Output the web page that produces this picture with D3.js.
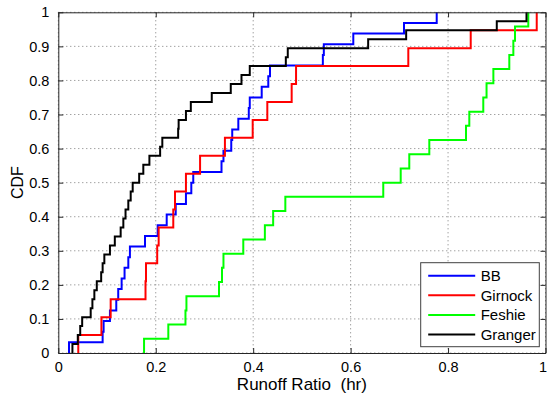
<!DOCTYPE html>
<html>
<head>
<meta charset="utf-8">
<script src="https://cdn.jsdelivr.net/npm/d3@7/dist/d3.min.js"></script>
<style>
  html, body { margin: 0; padding: 0; background: #fff; }
  svg { display: block; font-family: "Liberation Sans", Arial, Helvetica, sans-serif; }
</style>
</head>
<body>
<svg id="chart" width="547" height="398"></svg>
<script>
// Runoff ratio samples per catchment (empirical CDFs are built from these)
const bb = [0.022, 0.091, 0.093, 0.106, 0.119, 0.123, 0.130, 0.136, 0.1437, 0.147,
            0.178, 0.204, 0.2225, 0.241, 0.262, 0.273, 0.277, 0.335, 0.339, 0.355,
            0.357, 0.3695, 0.391, 0.393, 0.4175, 0.431, 0.4345, 0.543, 0.545, 0.6055,
            0.7096, 0.7767];
const girnock = [0.041, 0.0885, 0.1075, 0.179, 0.180, 0.203, 0.206, 0.236, 0.2395, 0.262,
                 0.291, 0.342, 0.399, 0.429, 0.479, 0.488, 0.7184, 0.8465, 0.982];
const feshie = [0.176, 0.2258, 0.261, 0.263, 0.3298, 0.336, 0.339, 0.3797, 0.424, 0.441,
                0.466, 0.667, 0.7028, 0.7204, 0.7615, 0.8368, 0.8436, 0.8723, 0.879, 0.893,
                0.9257, 0.934, 0.9374, 0.9647];
const granger = [0.029, 0.040, 0.045, 0.049, 0.0665, 0.070, 0.074, 0.079, 0.088, 0.091,
                 0.0945, 0.106, 0.116, 0.128, 0.1335, 0.138, 0.1437, 0.1486, 0.1527, 0.166,
                 0.1745, 0.187, 0.209, 0.2135, 0.246, 0.247, 0.262, 0.272, 0.315, 0.354,
                 0.376, 0.393, 0.467, 0.471, 0.636, 0.714, 0.90, 0.961];

const seriesNames = ["BB", "Girnock", "Feshie", "Granger"];
const seriesColors = ["#0000ff", "#ff0000", "#00ff00", "#000000"];
const seriesData = [bb, girnock, feshie, granger];

const xTicks = [0, 0.2, 0.4, 0.6, 0.8, 1];
const yTicks = [0, 0.1, 0.2, 0.3, 0.4, 0.5, 0.6, 0.7, 0.8, 0.9, 1];
const xLabel = "Runoff Ratio  (hr)";
const yLabel = "CDF";

const W = 547;
const svg = d3.select("#chart");
const plot = { left: 58.3, right: 545.5, top: 12.3, bottom: 353 };

const x = d3.scaleLinear().domain([0, 1]).range([plot.left, plot.right]);
const y = d3.scaleLinear().domain([0, 1]).range([plot.bottom, plot.top]);

const axisColor = "#262626";
const fmt = d => d3.format("")(+d.toFixed(1));

// dotted grid
const grid = svg.append("g");
xTicks.forEach(t => {
  grid.append("line")
    .attr("x1", x(t)).attr("x2", x(t))
    .attr("y1", plot.top).attr("y2", plot.bottom)
    .attr("stroke", "#7a7a7a").attr("stroke-width", 1)
    .attr("stroke-dasharray", "1,3");
});
yTicks.forEach(t => {
  grid.append("line")
    .attr("x1", plot.left).attr("x2", plot.right)
    .attr("y1", y(t)).attr("y2", y(t))
    .attr("stroke", "#7a7a7a").attr("stroke-width", 1)
    .attr("stroke-dasharray", "1,3");
});

// empirical CDF step lines
const line = d3.line()
  .x(d => x(d[0]))
  .y(d => y(d[1]))
  .curve(d3.curveStepAfter);

function ecdfPoints(samples) {
  const s = samples.slice().sort(d3.ascending);
  const n = s.length;
  const pts = [[s[0], 0]];
  s.forEach((v, i) => pts.push([v, (i + 1) / n]));
  return pts;
}

svg.append("clipPath").attr("id", "plotclip")
  .append("rect")
  .attr("x", plot.left).attr("y", plot.top - 2)
  .attr("width", plot.right - plot.left).attr("height", plot.bottom - plot.top + 2);

const lines = svg.append("g").attr("clip-path", "url(#plotclip)");
seriesData.forEach((data, i) => {
  lines.append("path")
    .attr("d", line(ecdfPoints(data)))
    .attr("fill", "none")
    .attr("stroke", seriesColors[i])
    .attr("stroke-width", 2)
    .attr("stroke-linejoin", "miter");
});

// axes (box with inward ticks on all sides)
const tickLen = 5;
const axBottom = svg.append("g").attr("transform", `translate(0,${plot.bottom})`)
  .call(d3.axisBottom(x).tickValues(xTicks).tickSizeInner(-tickLen).tickSizeOuter(0).tickPadding(9).tickFormat(fmt));
const axTop = svg.append("g").attr("transform", `translate(0,${plot.top})`)
  .call(d3.axisTop(x).tickValues(xTicks).tickSizeInner(-tickLen).tickSizeOuter(0).tickFormat(""));
const axLeft = svg.append("g").attr("transform", `translate(${plot.left},0)`)
  .call(d3.axisLeft(y).tickValues(yTicks).tickSizeInner(-tickLen).tickSizeOuter(0).tickPadding(9).tickFormat(fmt));
const axRight = svg.append("g").attr("transform", `translate(${plot.right},0)`)
  .call(d3.axisRight(y).tickValues(yTicks).tickSizeInner(-tickLen).tickSizeOuter(0).tickFormat(""));

[axBottom, axTop, axLeft, axRight].forEach(a => {
  a.select(".domain").attr("stroke", axisColor).attr("stroke-width", 1);
  a.selectAll(".tick line").attr("stroke", axisColor);
  a.selectAll(".tick text").attr("fill", "#000").attr("font-size", 14.5)
    .attr("font-family", "'Liberation Sans', Arial, sans-serif");
});

// keep the last x tick label inside the page edge
axBottom.selectAll(".tick text").each(function () {
  const bb = this.getBBox();
  const tx = x(d3.select(this.parentNode).datum());
  const overflow = tx + bb.x + bb.width - (W - 0.5);
  if (overflow > 0) d3.select(this).attr("dx", -overflow);
});

// axis titles
svg.append("text")
  .attr("x", (plot.left + plot.right) / 2).attr("y", 390)
  .attr("text-anchor", "middle")
  .attr("font-size", 17)
  .style("white-space", "pre")
  .text(xLabel);

svg.append("text")
  .attr("transform", `translate(23,${(plot.top + plot.bottom) / 2}) rotate(-90)`)
  .attr("text-anchor", "middle")
  .attr("font-size", 16)
  .text(yLabel);

// legend
const leg = { x: 420.7, y: 262.7, w: 118.6, h: 84, row: 19.6 };
const lg = svg.append("g");
lg.append("rect")
  .attr("x", leg.x).attr("y", leg.y).attr("width", leg.w).attr("height", leg.h)
  .attr("fill", "#fff").attr("stroke", "#404040").attr("stroke-width", 1);
seriesNames.forEach((name, i) => {
  const cy = leg.y + 13 + i * leg.row;
  lg.append("line")
    .attr("x1", leg.x + 7.5).attr("x2", leg.x + 54.5)
    .attr("y1", cy).attr("y2", cy)
    .attr("stroke", seriesColors[i]).attr("stroke-width", 2);
  lg.append("text")
    .attr("x", leg.x + 60).attr("y", cy + 5.3)
    .attr("font-size", 15)
    .text(name);
});
</script>
</body>
</html>
